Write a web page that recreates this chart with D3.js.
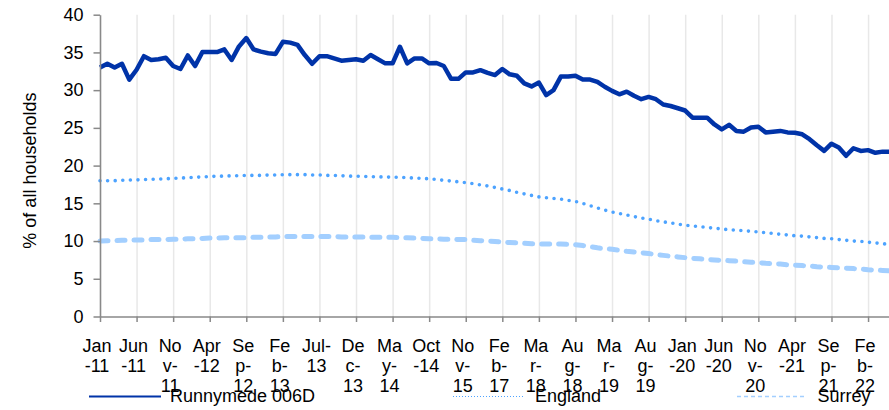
<!DOCTYPE html>
<html>
<head>
<meta charset="utf-8">
<script src="https://cdn.jsdelivr.net/npm/d3@7"></script>
<style>
    html, body { margin: 0; padding: 0; background: #fff; }
    svg.vis { display: block; font-family: "Liberation Sans", Arial, sans-serif; }
</style>
</head>
<body>
<svg class="vis"></svg>
<script>

// categories as they sit on the sheet (some years are quarterly only)
const categories = [
    "Jan-11","Feb-11","Mar-11","Apr-11","May-11","Jun-11","Jul-11","Aug-11","Sep-11","Oct-11","Nov-11","Dec-11",
    "Jan-12","Feb-12","Mar-12","Apr-12","May-12","Jun-12","Jul-12","Aug-12","Sep-12","Oct-12","Nov-12","Dec-12",
    "Jan-13","Feb-13","Mar-13","Apr-13","May-13","Jun-13","Jul-13","Aug-13","Sep-13","Oct-13","Nov-13","Dec-13",
    "Jan-14","Feb-14","Mar-14","Apr-14","May-14","Jun-14","Jul-14","Aug-14","Sep-14","Oct-14",
    "Jan-15","Apr-15","Jul-15","Oct-15","Nov-15","Feb-16","May-16","Aug-16","Nov-16","Feb-17",
    "May-17","Aug-17","Nov-17","Feb-18","Mar-18","Apr-18","May-18","Jun-18","Jul-18","Aug-18",
    "Sep-18","Oct-18","Nov-18","Jan-19","Mar-19","Apr-19","May-19","Jun-19","Jul-19","Aug-19",
    "Sep-19","Oct-19","Nov-19","Dec-19",
    "Jan-20","Feb-20","Mar-20","Apr-20","May-20","Jun-20","Jul-20","Aug-20","Sep-20","Oct-20","Nov-20","Dec-20",
    "Jan-21","Feb-21","Mar-21","Apr-21","May-21","Jun-21","Jul-21","Aug-21","Sep-21","Oct-21","Nov-21","Dec-21",
    "Jan-22","Feb-22","Mar-22","Apr-22","May-22"
];

const runnymede = [
    33.0, 33.5, 33.0, 33.5, 31.4, 32.7, 34.5, 34.0, 34.1, 34.3,
    33.2, 32.8, 34.6, 33.2, 35.05, 35.05, 35.05, 35.4, 34.0, 35.8,
    36.9, 35.4, 35.1, 34.9, 34.8, 36.4, 36.3, 36.0, 34.65, 33.5,
    34.5, 34.5, 34.2, 33.9, 34.0, 34.1, 33.9, 34.65, 34.1, 33.55,
    33.55, 35.75, 33.55, 34.2, 34.2, 33.55, 33.6, 33.2, 31.5, 31.5,
    32.35, 32.35, 32.65, 32.3, 32.0, 32.8, 32.1, 31.9, 30.9, 30.5,
    31.0, 29.35, 30.0, 31.8, 31.8, 31.9, 31.4, 31.4, 31.1, 30.45,
    29.9, 29.45, 29.8, 29.25, 28.8, 29.1, 28.8, 28.1, 27.9, 27.6,
    27.3, 26.35, 26.35, 26.35, 25.45, 24.8, 25.4, 24.6, 24.5, 25.05,
    25.15, 24.4, 24.5, 24.6, 24.4, 24.35, 24.15, 23.5, 22.7, 21.95,
    22.9, 22.4, 21.3, 22.3, 21.95, 22.05, 21.7, 21.85, 21.85
];

const england = [
    18.0, 18.0, 18.0, 18.05, 18.1, 18.1, 18.15, 18.2, 18.2, 18.25,
    18.3, 18.35, 18.4, 18.45, 18.5, 18.55, 18.6, 18.6, 18.65, 18.65,
    18.7, 18.7, 18.7, 18.75, 18.75, 18.8, 18.8, 18.8, 18.8, 18.75,
    18.75, 18.7, 18.7, 18.65, 18.6, 18.6, 18.55, 18.55, 18.5, 18.5,
    18.45, 18.45, 18.4, 18.35, 18.3, 18.25, 18.15, 18.05, 17.95, 17.85,
    17.75, 17.6, 17.45, 17.3, 17.1, 16.9, 16.7, 16.45, 16.25, 16.05,
    15.85, 15.75, 15.65, 15.55, 15.4, 15.25, 15.0, 14.7, 14.4, 14.1,
    13.85, 13.65, 13.45, 13.25, 13.05, 12.9, 12.7, 12.55, 12.4, 12.25,
    12.1, 12.0, 11.9, 11.8, 11.7, 11.6, 11.5, 11.45, 11.35, 11.3,
    11.2, 11.1, 11.0, 10.9, 10.8, 10.7, 10.65, 10.55, 10.45, 10.35,
    10.3, 10.2, 10.1, 10.0, 9.95, 9.85, 9.75, 9.65, 9.55
];

const surrey = [
    10.0, 10.05, 10.05, 10.1, 10.1, 10.15, 10.15, 10.2, 10.2, 10.2,
    10.25, 10.25, 10.3, 10.3, 10.35, 10.4, 10.4, 10.45, 10.45, 10.45,
    10.45, 10.5, 10.5, 10.55, 10.55, 10.6, 10.6, 10.6, 10.6, 10.6,
    10.6, 10.6, 10.6, 10.55, 10.55, 10.55, 10.55, 10.5, 10.5, 10.5,
    10.5, 10.45, 10.45, 10.4, 10.35, 10.3, 10.3, 10.25, 10.25, 10.2,
    10.2, 10.1, 10.05, 10.0, 9.95, 9.85, 9.8, 9.75, 9.7, 9.65,
    9.6, 9.6, 9.6, 9.6, 9.55, 9.5, 9.4, 9.25, 9.1, 9.0,
    8.9, 8.8, 8.65, 8.55, 8.45, 8.35, 8.2, 8.1, 8.0, 7.9,
    7.8, 7.7, 7.65, 7.55, 7.5, 7.45, 7.4, 7.35, 7.25, 7.2,
    7.15, 7.05, 7.0, 6.95, 6.85, 6.8, 6.75, 6.7, 6.6, 6.55,
    6.5, 6.45, 6.4, 6.35, 6.3, 6.2, 6.15, 6.1, 6.05
];

const yTicks = [0, 5, 10, 15, 20, 25, 30, 35, 40];
const labelEvery = 5;
const yTitle = "% of all households";

const seriesNames = ["Runnymede 006D", "England", "Surrey"];

const vis = {

    refs: {
        svg: "svg.vis"
    },

    sels: {
        svg: null
    },

    dims: {
        w: 889,
        h: 410,
        margins: {
            top: 14.7,
            left: 100,
            right: -1,   // plot runs a hair past the window edge
            bottom: 93.5
        }
    },

    style: {
        font: 18,
        axis: "#898989",
        grid: "#e8e8e8",
        colors: ["#0033a8", "#4da3ff", "#a3cfff"]
    },

    scales: {},

    f: {

        generates_refs: function() {
            vis.sels.svg = d3.select(vis.refs.svg)
                .attr("width", vis.dims.w)
                .attr("height", vis.dims.h);
        },

        make_scales: function() {
            const m = vis.dims.margins;
            vis.scales.x = d3.scalePoint()
                .domain(categories)
                .range([m.left, vis.dims.w - m.right]);
            vis.scales.y = d3.scaleLinear()
                .domain([0, 40])
                .range([vis.dims.h - m.bottom, m.top]);
        },

        // excel style wrapping: break after a hyphen if that fits, else by char
        wrap: function(textSel, str, maxW) {
            const lines = [];
            let rest = str;
            const probe = textSel.append("tspan");
            const width = s => { probe.text(s); return probe.node().getComputedTextLength(); };
            while (rest.length) {
                if (width(rest) <= maxW) { lines.push(rest); break; }
                let cut = -1;
                for (let k = rest.length - 1; k > 0; k--) {
                    if (rest[k - 1] === "-" && width(rest.slice(0, k)) <= maxW) { cut = k; break; }
                }
                if (cut < 0) {
                    cut = 1;
                    for (let k = rest.length - 1; k > 0; k--) {
                        if (width(rest.slice(0, k)) <= maxW) { cut = k; break; }
                    }
                }
                lines.push(rest.slice(0, cut));
                rest = rest.slice(cut);
            }
            probe.remove();
            return lines;
        }

    },

    draw: {

        grid: function() {
            const y = vis.scales.y;
            const ticks = categories.filter((d, i) => i % labelEvery === 0);
            vis.sels.svg.append("g")
                .attr("transform", `translate(0,${y(0)})`)
                .call(d3.axisBottom(vis.scales.x).tickValues(ticks).tickSize(-(y(0) - y(40))).tickFormat(""))
                .call(g => g.select(".domain").remove())
                .call(g => g.selectAll("line").attr("stroke", vis.style.grid).attr("stroke-width", 1.5));
        },

        axes: function() {
            const x = vis.scales.x, y = vis.scales.y, st = vis.style;
            const ticks = categories.filter((d, i) => i % labelEvery === 0);

            const gx = vis.sels.svg.append("g")
                .attr("transform", `translate(0,${y(0)})`)
                .call(d3.axisBottom(x).tickValues(ticks).tickSize(5.5).tickSizeOuter(0).tickFormat(""));
            gx.select(".domain").attr("stroke", st.axis).attr("stroke-width", 1.5);
            gx.selectAll(".tick line").attr("stroke", st.axis).attr("stroke-width", 1.5);

            // wrapped category labels
            ticks.forEach(function(c) {
                const t = vis.sels.svg.append("text")
                    .attr("text-anchor", "middle")
                    .attr("font-size", st.font)
                    .attr("fill", "#000");
                const lines = vis.f.wrap(t, c, 30);
                lines.forEach((l, i) => {
                    t.append("tspan")
                        .attr("x", x(c) - 3)
                        .attr("y", y(0) + 35 + i * 20)
                        .text(l);
                });
            });

            const gy = vis.sels.svg.append("g")
                .attr("transform", `translate(${x.range()[0]},0)`)
                .call(d3.axisLeft(y).tickValues(yTicks).tickSize(6.5).tickPadding(10).tickSizeOuter(0));
            gy.select(".domain").attr("stroke", st.axis).attr("stroke-width", 1.5);
            gy.selectAll(".tick line").attr("stroke", st.axis).attr("stroke-width", 1.5);
            gy.selectAll(".tick text")
                .attr("font-size", st.font)
                .attr("font-family", "Liberation Sans, Arial, sans-serif")
                .attr("fill", "#000");

            vis.sels.svg.append("text")
                .attr("transform", `translate(36,${(y(0) + y(40)) / 2 + 5}) rotate(-90)`)
                .attr("text-anchor", "middle")
                .attr("font-size", st.font)
                .attr("fill", "#000")
                .text(yTitle);
        },

        lines: function() {
            const x = vis.scales.x, y = vis.scales.y, st = vis.style;
            const line = d3.line()
                .x((d, i) => x(categories[i]))
                .y(d => y(d));

            vis.sels.svg.append("path")
                .attr("d", line(surrey))
                .attr("fill", "none")
                .attr("stroke", st.colors[2])
                .attr("stroke-width", 5)
                .attr("stroke-linecap", "round")
                .attr("stroke-dasharray", "8 9");

            vis.sels.svg.append("path")
                .attr("d", line(england))
                .attr("fill", "none")
                .attr("stroke", st.colors[1])
                .attr("stroke-width", 3.6)
                .attr("stroke-linecap", "round")
                .attr("stroke-dasharray", "0 7.6");

            vis.sels.svg.append("path")
                .attr("d", line(runnymede))
                .attr("fill", "none")
                .attr("stroke", st.colors[0])
                .attr("stroke-width", 4.5)
                .attr("stroke-linejoin", "round");
        },

        legend: function() {
            const st = vis.style;
            const items = [
                { x0: 89,  x1: 161, tx: 170,   dash: null,    w: 2 },
                { x0: 453, x1: 523, tx: 535,   dash: "1 2",   w: 1.2 },
                { x0: 737, x1: 807, tx: 817.5, dash: "4 3",   w: 1.6 }
            ];
            items.forEach(function(it, i) {
                vis.sels.svg.append("line")
                    .attr("x1", it.x0).attr("x2", it.x1)
                    .attr("y1", 396.5).attr("y2", 396.5)
                    .attr("stroke", st.colors[i])
                    .attr("stroke-width", it.w)
                    .attr("stroke-dasharray", it.dash);
                vis.sels.svg.append("text")
                    .attr("x", it.tx)
                    .attr("y", 402)
                    .attr("font-size", st.font)
                    .attr("fill", "#000")
                    .text(seriesNames[i]);
            });
        }

    },

    control: {
        init: function() {
            vis.f.generates_refs();
            vis.f.make_scales();
            vis.draw.grid();
            vis.draw.lines();
            vis.draw.axes();
            vis.draw.legend();
        }
    }

};

vis.control.init();
</script>
</body>
</html>
